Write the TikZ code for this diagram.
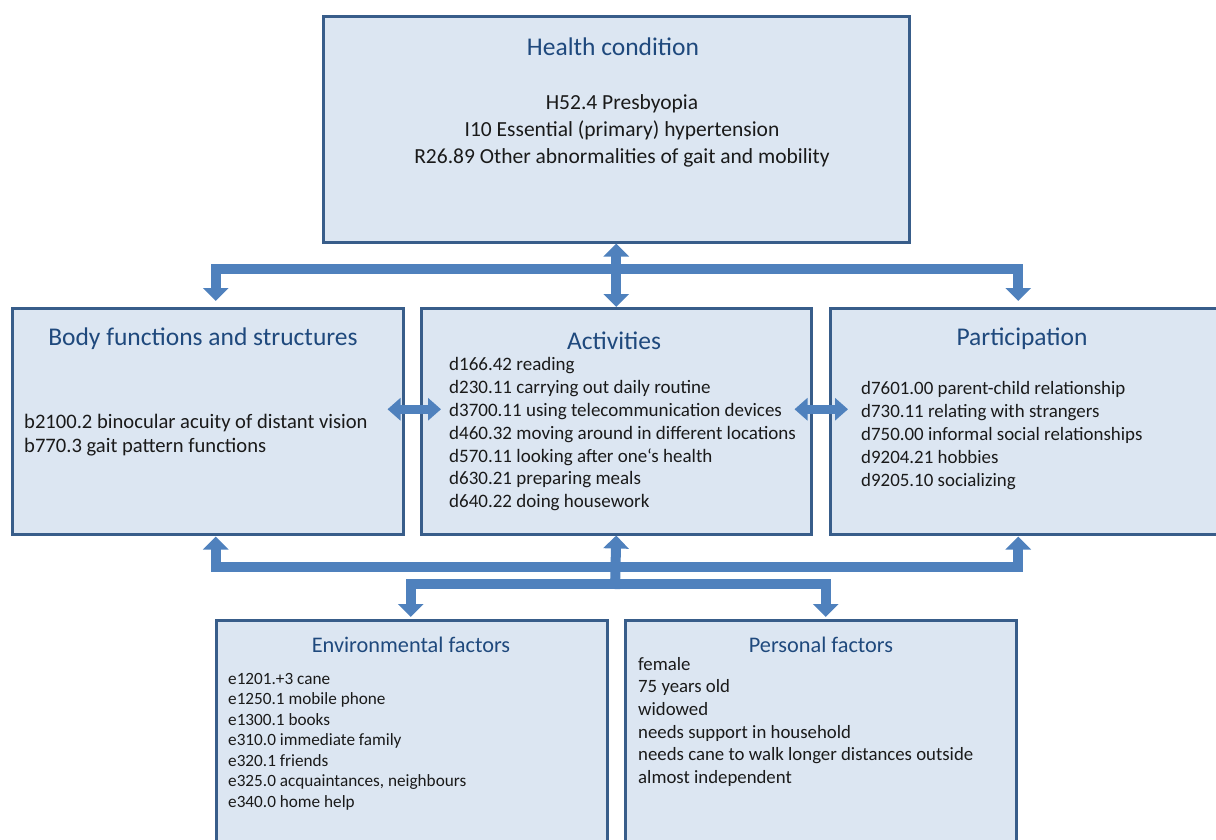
\documentclass[tikz,border=0pt]{standalone}
\usepackage{fontspec}
\setmainfont{Carlito}
\usetikzlibrary{arrows.meta}
\definecolor{boxfill}{HTML}{DCE6F2}
\definecolor{boxdraw}{HTML}{385D8A}
\definecolor{arr}{HTML}{4F81BD}
\definecolor{ttlc}{HTML}{1F497D}
\definecolor{txtc}{HTML}{1A1A1A}
\begin{document}
\begin{tikzpicture}[x=1pt,y=-1pt,
  box/.style={draw=boxdraw, fill=boxfill, line width=2.5pt, inner sep=0pt, anchor=north west},
  ttl/.style={text=ttlc, inner sep=0pt, font=\fontsize{#1}{#1}\selectfont},
  lst/.style={text=txtc, inner sep=0pt, anchor=north west, align=left},
  bigline/.style={draw=arr, line width=10pt, line join=miter, >={Triangle[length=13pt,width=25pt]}},
  hline/.style={draw=arr, line width=9pt, >={Triangle[length=13pt,width=22pt]}}
]
\clip (0,0) rectangle (1216,839);
% boxes
\node[box, minimum width=586pt, minimum height=226pt] (hc) at (322,15) {};
\node[box, minimum width=391pt, minimum height=226pt] (body) at (11,307) {};
\node[box, minimum width=390pt, minimum height=226pt] (act) at (420,307) {};
\node[box, minimum width=387pt, minimum height=226pt] (part) at (829,307) {};
\node[box, minimum width=391pt, minimum height=240pt] (env) at (215,619) {};
\node[box, minimum width=391pt, minimum height=240pt] (pers) at (624,619) {};

% titles
\node[ttl=25.5] (hct) at (613,47) {Health condition};
\node[ttl=25.5] (bodyt) at (203,339) {Body functions and structures};
\node[ttl=25.5] (actt) at (614,341) {Activities};
\node[ttl=25.5] (partt) at (1022,339) {Participation};
\node[ttl=22.3] (envt) at (411,645) {Environmental factors};
\node[ttl=22.3] (perst) at (821,645) {Personal factors};

% lists
\node[text=txtc, inner sep=0pt, anchor=north, align=center, font=\fontsize{21.5}{27}\selectfont] (hcl) at (622,94) {H52.4 Presbyopia\\ I10 Essential (primary) hypertension\\ R26.89 Other abnormalities of gait and mobility};
\node[lst, font=\fontsize{20.6}{24}\selectfont] (bodyl) at (24,413.5) {b2100.2 binocular acuity of distant vision\\ b770.3 gait pattern functions};
\node[lst, font=\fontsize{19}{22.9}\selectfont] (actl) at (449,357) {d166.42 reading\\ d230.11 carrying out daily routine\\ d3700.11 using telecommunication devices\\ d460.32 moving around in different locations\\ d570.11 looking after one‘s health\\ d630.21 preparing meals\\ d640.22 doing housework};
\node[lst, font=\fontsize{18.9}{23}\selectfont] (partl) at (861,381) {d7601.00 parent-child relationship\\ d730.11 relating with strangers\\ d750.00 informal social relationships\\ d9204.21 hobbies\\ d9205.10 socializing};
\node[lst, font=\fontsize{17.2}{20.5}\selectfont] (envl) at (228,673) {e1201.+3 cane\\ e1250.1 mobile phone\\ e1300.1 books\\ e310.0 immediate family\\ e320.1 friends\\ e325.0 acquaintances, neighbours\\ e340.0 home help};
\node[lst, font=\fontsize{18.8}{22.6}\selectfont] (persl) at (638,657) {female\\ 75 years old\\ widowed\\ needs support in household\\ needs cane to walk longer distances outside\\ almost independent};

% top connectors
\coordinate (tb) at (615,269);
\draw[bigline,<->] (hc.south) -- (act.north);
\draw[bigline,->] (tb) -| ([xshift=8pt,yshift=6pt]body.north);
\draw[bigline,->] (tb) -| ([xshift=-5.5pt,yshift=6pt]part.north);

% bottom connectors
\coordinate (bb) at (615,567);
\coordinate (cb) at (615,584);
\draw[bigline,->] (bb) -| ([xshift=8pt,yshift=-1pt]body.south);
\draw[bigline,->] (bb) -| ([xshift=-5.5pt,yshift=-1pt]part.south);
\draw[bigline,->] ([yshift=-5pt]cb) -- (act.south);
\draw[bigline,->] (cb) -| ([xshift=-1pt,yshift=2pt]env.north);
\draw[bigline,->] (cb) -| ([xshift=5pt,yshift=2pt]pers.north);

% side connectors
\draw[hline,<->] ([xshift=-17pt,yshift=12pt]body.east) -- ([xshift=21pt,yshift=12pt]act.west);
\draw[hline,<->] ([xshift=-18pt,yshift=12pt]act.east) -- ([xshift=19pt,yshift=12pt]part.west);
\end{tikzpicture}
\end{document}
